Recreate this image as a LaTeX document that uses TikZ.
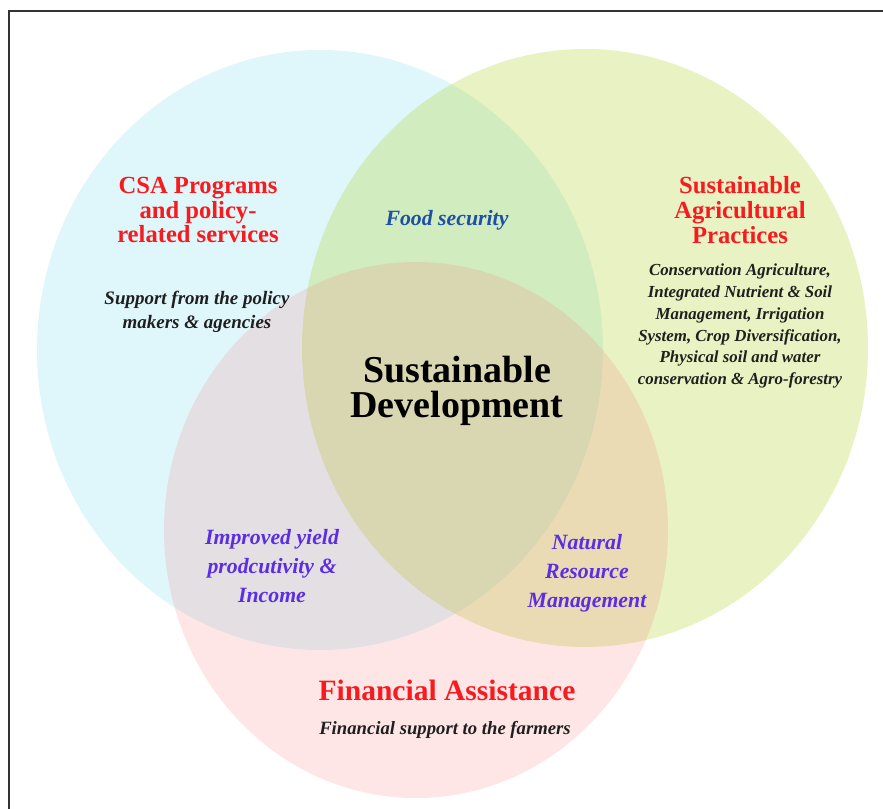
\documentclass[tikz,border=0pt]{standalone}
\usepackage{fontspec}
\setmainfont{Liberation Serif}
\usepackage{xcolor}
\usepackage{tikz}
\usetikzlibrary{positioning}

\definecolor{csablue}{HTML}{DFF7FA}
\definecolor{sapgreen}{HTML}{B2D434}
\definecolor{fapink}{HTML}{FA8282}
\definecolor{headred}{HTML}{F71A1F}
\definecolor{overlappurple}{HTML}{5B2DE3}
\definecolor{foodblue}{HTML}{1E4FA6}
\definecolor{framegray}{HTML}{333333}

\begin{document}
\begin{tikzpicture}[x=0.025cm, y=-0.025cm,
  heading/.style={text=headred, font=\fontsize{17.5}{17.5}\selectfont\bfseries, align=center, inner sep=0pt},
  detail/.style={text=black!88, font=\fontsize{13.5}{17.5}\selectfont\bfseries\itshape, align=center, inner sep=0pt},
  overlap/.style={text=overlappurple, font=\fontsize{15.5}{20.5}\selectfont\bfseries\itshape, align=center, inner sep=0pt}]

\useasboundingbox (0,0) rectangle (883,809);

\foreach \c/\op/\cx/\cy/\rx/\ry in {csablue/1/320/350/283/300, sapgreen/0.3/585/348/283/299, fapink/0.2/416/530/252/268}
  \fill [\c, fill opacity=\op] (\cx,\cy) ellipse [x radius=\rx, y radius=\ry];

\draw [line width=1pt, framegray] (9,809) -- (9,11) -- (883,11);

\node [heading] (csa-title) at (198,210) {CSA Programs\\and policy-\\related services};
\node [detail] (csa-detail) at (197,312) {Support from the policy\\makers \& agencies};

\node [overlap, text=foodblue] (food) at (447,220) {Food security};

\node [heading] (sap-title) at (740,210) {Sustainable\\Agricultural\\Practices};
\node [detail, font=\fontsize{12}{15.6}\selectfont\bfseries\itshape] (sap-detail) at (740,326)
  {Conservation Agriculture,\\Integrated Nutrient \& Soil\\Management, Irrigation\\System, Crop Diversification,\\Physical soil and water\\conservation \& Agro-forestry};

\node [align=center, inner sep=0pt, font=\fontsize{27}{25}\selectfont\bfseries] (sd) at (457,391) {Sustainable\\Development};

\node [overlap] (yield) at (272,566) {Improved yield\\prodcutivity \&\\Income};
\node [overlap] (nrm) at (587,573) {Natural\\Resource\\Management};

\node [heading, font=\fontsize{21}{21}\selectfont\bfseries] (fa-title) at (447,690) {Financial Assistance};
\node [detail, font=\fontsize{13.3}{17.5}\selectfont\bfseries\itshape] (fa-detail) at (445,730) {Financial support to the farmers};

\end{tikzpicture}
\end{document}
